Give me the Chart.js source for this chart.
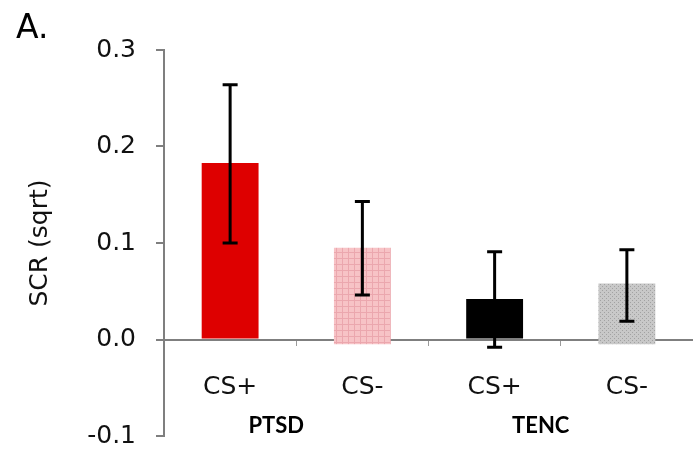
<!DOCTYPE html>
<html>
<head>
<meta charset="utf-8">
<script src="https://cdn.jsdelivr.net/npm/chart.js@4/dist/chart.umd.min.js"></script>
<style>
  html, body { margin: 0; padding: 0; background: #fff; }
  #wrap { width: 693px; height: 453px; }
</style>
</head>
<body>
<div id="wrap"><canvas id="chart-area" width="693" height="453"></canvas></div>
<script>
// values
var categories = ['CS+', 'CS-', 'CS+', 'CS-'];
var groups = ['PTSD', 'TENC'];
var means = [0.183, 0.095, 0.042, 0.058];
var barBase = [0, -0.005, 0, -0.005];
var errLow = [0.100, 0.046, -0.008, 0.019];
var errHigh = [0.264, 0.143, 0.091, 0.093];
var yTicks = [-0.1, 0.0, 0.1, 0.2, 0.3];

function makePattern(bg, line, size, dots) {
    var c = document.createElement('canvas');
    c.width = size; c.height = size;
    var g = c.getContext('2d');
    g.fillStyle = bg;
    g.fillRect(0, 0, size, size);
    g.fillStyle = line;
    if (dots) {
        g.fillRect(0, 0, 1, 1);
        g.fillRect(size / 2, size / 2, 1, 1);
    } else {
        g.fillRect(0, 0, size, 1);
        g.fillRect(0, 0, 1, size);
    }
    return g.createPattern(c, 'repeat');
}

var ctx = document.getElementById('chart-area').getContext('2d');

var barColors = [
    '#de0000',
    makePattern('#f7c3c6', '#eba7ae', 6, false),
    '#000000',
    makePattern('#c8c8c8', '#a2a2a2', 4, true)
];

function noPad(scale) {
    scale.paddingTop = 0;
    scale.paddingBottom = 0;
}

var errorBars = {
    id: 'errorBars',
    afterDatasetsDraw: function (chart) {
        var y = chart.scales.y;
        var meta = chart.getDatasetMeta(0);
        var c = chart.ctx;
        c.save();
        c.strokeStyle = '#000';
        c.lineWidth = 3;
        for (var i = 0; i < means.length; i++) {
            var x = meta.data[i].x;
            var top = y.getPixelForValue(errHigh[i]);
            var bot = y.getPixelForValue(errLow[i]);
            c.beginPath();
            c.moveTo(x, top); c.lineTo(x, bot);
            c.moveTo(x - 7.5, top); c.lineTo(x + 7.5, top);
            c.moveTo(x - 7.5, bot); c.lineTo(x + 7.5, bot);
            c.stroke();
        }
        c.restore();
    },
    afterDraw: function (chart) {
        var c = chart.ctx;
        var xs = chart.scales.x;
        c.save();
        c.fillStyle = '#000';
        c.font = '33px "DejaVu Sans"';
        c.textAlign = 'left';
        c.textBaseline = 'alphabetic';
        c.fillText('A.', 16, 38);
        c.font = 'bold 22px Lato';
        c.textAlign = 'center';
        for (var g = 0; g < groups.length; g++) {
            var gx = (xs.getPixelForValue(g * 2) + xs.getPixelForValue(g * 2 + 1)) / 2 - 20;
            c.fillText(groups[g], gx, 433);
        }
        c.restore();
    }
};

var config = {
    type: 'bar',
    data: {
        labels: categories,
        datasets: [{
            data: means.map(function (m, i) { return [barBase[i], m]; }),
            backgroundColor: barColors,
            borderWidth: 0,
            categoryPercentage: 1,
            barPercentage: 0.43
        }]
    },
    options: {
        responsive: false,
        animation: false,
        layout: { padding: { top: 50, bottom: 17, left: 0, right: -12 } },
        plugins: {
            legend: { display: false },
            tooltip: { enabled: false }
        },
        scales: {
            x: {
                position: { y: 0 },
                afterFit: function (scale) { scale.height = 0; noPad(scale); },
                grid: {
                    offset: true,
                    drawOnChartArea: false,
                    tickLength: 5,
                    color: '#9a9a9a'
                },
                border: { color: '#7f7f7f', width: 2 },
                ticks: {
                    color: '#111',
                    padding: 28,
                    font: { family: 'DejaVu Sans', size: 25 }
                }
            },
            y: {
                min: -0.1,
                max: 0.3,
                afterFit: function (scale) { scale.width = 164; noPad(scale); },
                afterBuildTicks: function (scale) {
                    scale.ticks = yTicks.map(function (v) { return { value: v }; });
                },
                grid: {
                    drawOnChartArea: false,
                    tickLength: 8,
                    color: '#7f7f7f',
                    lineWidth: 2
                },
                border: { color: '#7f7f7f', width: 2 },
                ticks: {
                    color: '#111',
                    padding: 20,
                    font: { family: 'DejaVu Sans', size: 25 },
                    callback: function (v) { return Number(v).toFixed(1); }
                },
                title: {
                    display: true,
                    text: 'SCR (sqrt)',
                    color: '#111',
                    padding: { top: 25, bottom: 0 },
                    font: { family: 'DejaVu Sans', size: 25 }
                }
            }
        }
    },
    plugins: [errorBars]
};

window.myBar = new Chart(ctx, config);
</script>
</body>
</html>
